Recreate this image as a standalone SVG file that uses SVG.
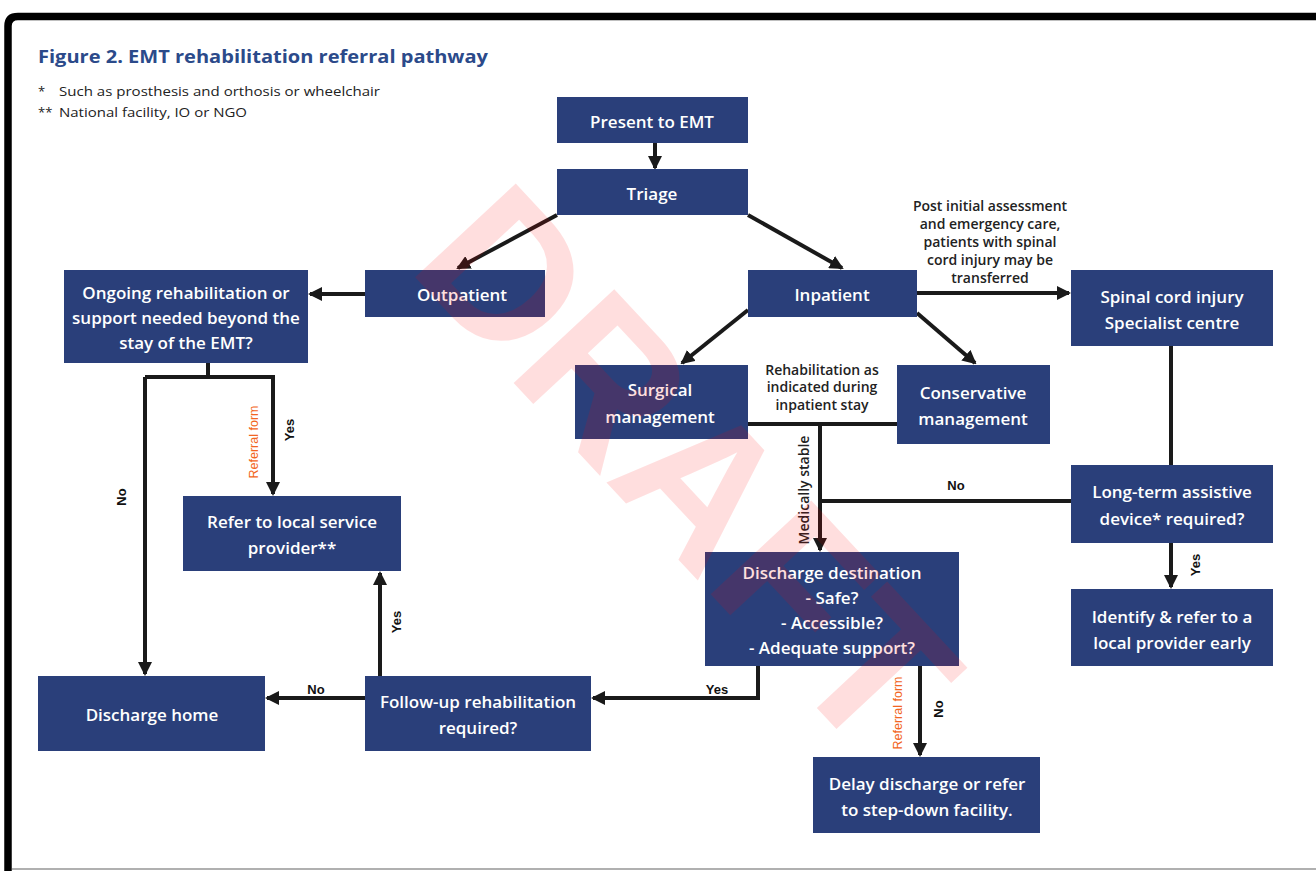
<svg xmlns="http://www.w3.org/2000/svg" width="1316" height="871" viewBox="0 0 1316 871">
<style>
.box{fill:#2a3f7a}
.bt{font-family:"Open Sans","Liberation Sans",Arial,sans-serif;font-size:17px;font-weight:600;fill:#ffffff;text-anchor:middle;dominant-baseline:central}
.ln{fill:none;stroke:#1a1a1a;stroke-width:4}
.ann{font-family:"Open Sans","Liberation Sans",Arial,sans-serif;font-size:14px;font-weight:600;fill:#222;text-anchor:middle;dominant-baseline:central}
.lab{font-family:"Liberation Sans",Arial,sans-serif;font-size:13px;font-weight:bold;fill:#111;text-anchor:middle;dominant-baseline:central}
.ref{font-family:"Liberation Sans",Arial,sans-serif;font-size:12.5px;fill:#f26522;text-anchor:middle;dominant-baseline:central}
</style>
<defs>
<marker id="ah" viewBox="0 0 14 14" refX="12" refY="7" markerWidth="14" markerHeight="14" markerUnits="userSpaceOnUse" orient="auto">
<path d="M0,0 L14,7 L0,14 Z" fill="#1a1a1a"/>
</marker>
</defs>
<rect x="0" y="0" width="1316" height="871" fill="#ffffff"/>
<path d="M8,871 L8,26 Q8,16.5 18,16.5 L1316,16.5" fill="none" stroke="#000" stroke-width="7.5"/>
<line x1="12" y1="869" x2="1316" y2="869" stroke="#b0b0b0" stroke-width="2"/>

<text x="38" y="56" font-family="Open Sans,Liberation Sans,Arial,sans-serif" font-size="18" font-weight="bold" fill="#2b4a8a" dominant-baseline="central" textLength="450" lengthAdjust="spacingAndGlyphs">Figure 2. EMT rehabilitation referral pathway</text>
<text font-family="Open Sans,Liberation Sans,Arial,sans-serif" font-size="13" fill="#222" dominant-baseline="central"><tspan x="38" y="91">*</tspan><tspan x="59" y="91" textLength="321" lengthAdjust="spacingAndGlyphs">Such as prosthesis and orthosis or wheelchair</tspan><tspan x="38" y="112">**</tspan><tspan x="59" y="112" textLength="188" lengthAdjust="spacingAndGlyphs">National facility, IO or NGO</tspan></text>

<g id="connectors">
<line class="ln" x1="655" y1="143" x2="655" y2="168" marker-end="url(#ah)"/>
<line class="ln" x1="557" y1="215" x2="458" y2="268" marker-end="url(#ah)"/>
<line class="ln" x1="748" y1="215" x2="842" y2="268" marker-end="url(#ah)"/>
<line class="ln" x1="365" y1="294" x2="310" y2="294" marker-end="url(#ah)"/>
<line class="ln" x1="917" y1="293" x2="1069" y2="293" marker-end="url(#ah)"/>
<line class="ln" x1="748" y1="310" x2="682" y2="363" marker-end="url(#ah)"/>
<line class="ln" x1="917" y1="313" x2="975" y2="363" marker-end="url(#ah)"/>
<line class="ln" x1="748" y1="424" x2="897" y2="424"/>
<line class="ln" x1="820" y1="424" x2="820" y2="550" marker-end="url(#ah)"/>
<line class="ln" x1="1171" y1="346" x2="1171" y2="465"/>
<line class="ln" x1="1071" y1="501" x2="820" y2="501"/>
<line class="ln" x1="1171" y1="543" x2="1171" y2="587" marker-end="url(#ah)"/>
<polyline class="ln" points="758,666 758,698 593,698" marker-end="url(#ah)"/>
<line class="ln" x1="920" y1="666" x2="920" y2="755" marker-end="url(#ah)"/>
<line class="ln" x1="365" y1="698" x2="267" y2="698" marker-end="url(#ah)"/>
<line class="ln" x1="380" y1="676" x2="380" y2="573" marker-end="url(#ah)"/>
<polyline class="ln" points="208,363 208,377"/>
<polyline class="ln" points="145,377 273,377 273,494" marker-end="url(#ah)"/>
<line class="ln" x1="145" y1="377" x2="145" y2="674" marker-end="url(#ah)"/>

<text class="ann"><tspan x="990" y="205">Post initial assessment</tspan><tspan x="990" y="223">and emergency care,</tspan><tspan x="990" y="241">patients with spinal</tspan><tspan x="990" y="259">cord injury may be</tspan><tspan x="990" y="277">transferred</tspan></text>
<text class="ann"><tspan x="822" y="369">Rehabilitation as</tspan><tspan x="822" y="386">indicated during</tspan><tspan x="822" y="404">inpatient stay</tspan></text>
<text class="ann" transform="translate(803,490) rotate(-90)" font-size="12">Medically stable</text>
<text class="lab" x="956" y="485">No</text>
<text class="lab" transform="translate(1195,565) rotate(-90)">Yes</text>
<text class="lab" x="717" y="689">Yes</text>
<text class="lab" transform="translate(938,709) rotate(-90)">No</text>
<text class="ref" transform="translate(898,713) rotate(-90)">Referral form</text>
<text class="lab" x="316" y="689">No</text>
<text class="lab" transform="translate(396,622) rotate(-90)">Yes</text>
<text class="lab" transform="translate(121,497) rotate(-90)">No</text>
<text class="lab" transform="translate(289,430) rotate(-90)">Yes</text>
<text class="ref" transform="translate(254,442) rotate(-90)">Referral form</text>
</g>

<g id="n-present"><rect class="box" x="557" y="97" width="191" height="46"/><text class="bt" x="652" y="121">Present to EMT</text></g>
<g id="n-triage"><rect class="box" x="557" y="169" width="191" height="46"/><text class="bt" x="652" y="193">Triage</text></g>
<g id="n-outpatient"><rect class="box" x="365" y="270" width="180" height="47"/><text class="bt" x="462" y="294">Outpatient</text></g>
<g id="n-inpatient"><rect class="box" x="748" y="270" width="169" height="47"/><text class="bt" x="832" y="294">Inpatient</text></g>
<g id="n-ongoing"><rect class="box" x="64" y="270" width="244" height="93"/><text class="bt"><tspan x="186" y="292">Ongoing rehabilitation or</tspan><tspan x="186" y="317">support needed beyond the</tspan><tspan x="186" y="342">stay of the EMT?</tspan></text></g>
<g id="n-spinal"><rect class="box" x="1071" y="270" width="202" height="76"/><text class="bt"><tspan x="1172" y="296">Spinal cord injury</tspan><tspan x="1172" y="322">Specialist centre</tspan></text></g>
<g id="n-surgical"><rect class="box" x="575" y="365" width="173" height="74"/><text class="bt"><tspan x="660" y="389">Surgical</tspan><tspan x="660" y="416">management</tspan></text></g>
<g id="n-conservative"><rect class="box" x="897" y="365" width="153" height="79"/><text class="bt"><tspan x="973" y="392">Conservative</tspan><tspan x="973" y="418">management</tspan></text></g>
<g id="n-longterm"><rect class="box" x="1071" y="465" width="202" height="78"/><text class="bt"><tspan x="1172" y="491">Long-term assistive</tspan><tspan x="1172" y="518">device* required?</tspan></text></g>
<g id="n-referlocal"><rect class="box" x="183" y="496" width="218" height="75"/><text class="bt"><tspan x="292" y="521">Refer to local service</tspan><tspan x="292" y="547">provider**</tspan></text></g>
<g id="n-discharge"><rect class="box" x="705" y="552" width="254" height="114"/><text class="bt"><tspan x="832" y="572">Discharge destination</tspan><tspan x="832" y="597">- Safe?</tspan><tspan x="832" y="622">- Accessible?</tspan><tspan x="832" y="647">- Adequate support?</tspan></text></g>
<g id="n-identify"><rect class="box" x="1071" y="589" width="202" height="77"/><text class="bt"><tspan x="1172" y="616">Identify &amp; refer to a</tspan><tspan x="1172" y="642">local provider early</tspan></text></g>
<g id="n-home"><rect class="box" x="38" y="676" width="227" height="75"/><text class="bt" x="152" y="714">Discharge home</text></g>
<g id="n-followup"><rect class="box" x="365" y="676" width="226" height="75"/><text class="bt"><tspan x="478" y="701">Follow-up rehabilitation</tspan><tspan x="478" y="727">required?</tspan></text></g>
<g id="n-delay"><rect class="box" x="813" y="757" width="227" height="76"/><text class="bt"><tspan x="927" y="783">Delay discharge or refer</tspan><tspan x="927" y="809">to step-down facility.</tspan></text></g>

<text x="0" y="0" transform="translate(688,468) rotate(47)" font-family="Liberation Sans,Arial,sans-serif" font-size="200" font-weight="bold" fill="#ff0000" fill-opacity="0.13" text-anchor="middle" dominant-baseline="central">DRAFT</text>
</svg>
